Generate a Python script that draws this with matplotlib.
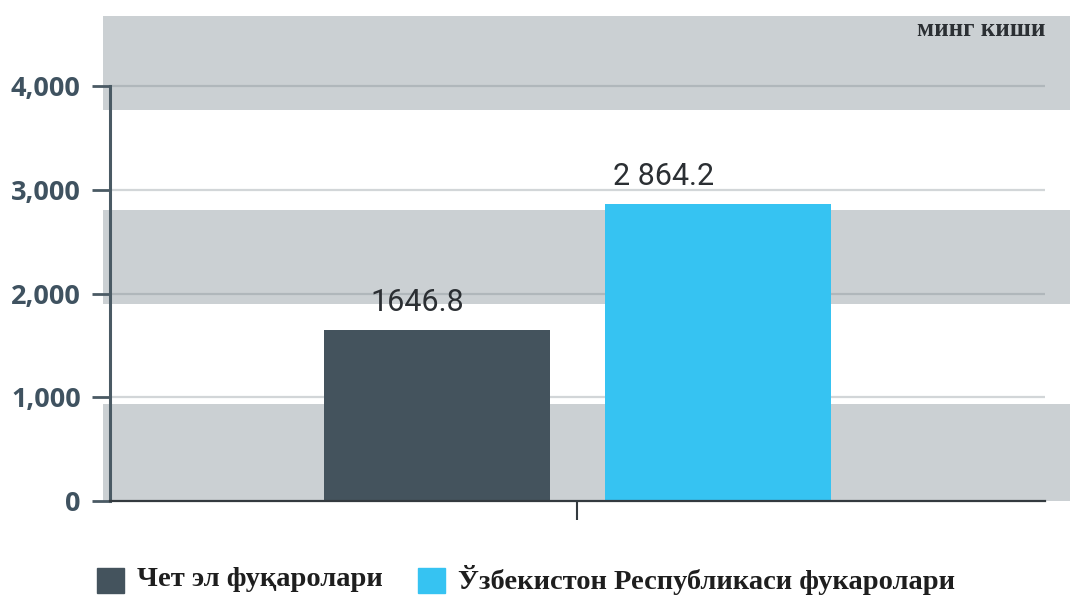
import matplotlib.pyplot as plt
from matplotlib.patches import Rectangle

# data
series = ["Чет эл фуқаролари", "Ўзбекистон Республикаси фукаролари"]
values = [1646.8, 2864.2]
value_labels = ["1646.8", "2 864.2"]
colors = ["#44535d", "#36c3f2"]
yticks = [0, 1000, 2000, 3000, 4000]
ytick_labels = ["0", "1,000", "2,000", "3,000", "4,000"]
# grey background bands (value ranges)
bands = [(0, 935), (1900, 2805), (3770, 4680)]

fig = plt.figure(figsize=(10.7, 5.97), dpi=100)
ax = fig.add_axes([0.1028, 0.1608, 0.8738, 0.8124])

for lo, hi in bands:
    ax.axhspan(lo, hi, xmin=-0.007, xmax=1.03, color="#cbd0d3", lw=0,
               zorder=0, clip_on=False)

for y in yticks[1:]:
    ax.axhline(y, color="#7f8a90", alpha=0.35, lw=1.6, zorder=1)

offsets = [-0.3, 0.3]
label_shift = [-0.043, -0.115]   # labels sit a bit left of bar centres
for off, sh, v, lab, c in zip(offsets, label_shift, values, value_labels, colors):
    ax.bar(off, v, width=0.483, color=c, zorder=2)
    ax.text(off + sh, v + 130, lab, ha="center", va="bottom",
            fontsize=22, color="#2b2f33", family="Roboto")

ax.set_xlim(-1, 1)
ax.set_ylim(0, 4680)

for s in ["top", "right"]:
    ax.spines[s].set_visible(False)
ax.spines["left"].set_bounds(0, 4000)
ax.spines["left"].set_color("#4a5a64")
ax.spines["left"].set_linewidth(2.2)
ax.spines["bottom"].set_color("#333a3f")
ax.spines["bottom"].set_linewidth(1.6)
ax.spines["left"].set_zorder(3)
ax.spines["bottom"].set_zorder(3)

ax.set_yticks(yticks)
ax.set_yticklabels(ytick_labels, fontsize=19.5, fontweight="bold",
                   color="#3f5260", family="Open Sans")
ax.tick_params(axis="y", length=13, width=2, color="#4a5a64", pad=8)
ax.set_xticks([0])
ax.set_xticklabels([""])
ax.tick_params(axis="x", length=14, width=1.5, color="#333a3f")

fig.text(1045 / 1070, 1 - 30 / 597, "минг киши", ha="right", va="center",
         fontsize=18, fontweight="bold", color="#2b2f33",
         family="Liberation Serif")

# legend
leg_x = [97 / 1070, 418 / 1070]
for lx, lab, c in zip(leg_x, series, colors):
    fig.patches.append(Rectangle((lx, 1 - 593 / 597), 27 / 1070, 25 / 597,
                                 transform=fig.transFigure, color=c))
    fig.text(lx + 40 / 1070, 1 - 580 / 597, lab, ha="left", va="center",
             fontsize=20.5, fontweight="bold", color="#1e1e1e",
             family="Liberation Serif")

fig.savefig("out.png", dpi=100)
